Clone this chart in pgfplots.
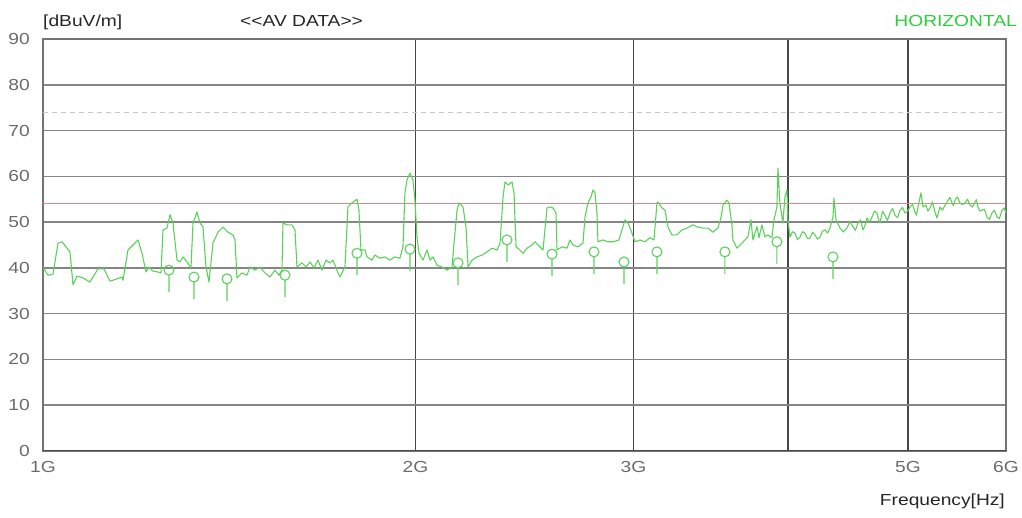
\documentclass[border=0pt]{standalone}
\usepackage{fontspec}
\setmainfont{Liberation Sans}[FakeStretch=1.2]
\usepackage{pgfplots}
\usepackage{pgfplotstable}
\pgfplotsset{compat=1.18}
\definecolor{trace}{RGB}{90,210,90}
\definecolor{hgreen}{RGB}{45,205,60}
\definecolor{limred}{RGB}{222,135,135}
\definecolor{limgray}{RGB}{200,200,200}
\pgfdeclareplotmark{ostem}{%
  \pgfpathcircle{\pgfpointorigin}{\pgfplotmarksize}%
  \pgfpathmoveto{\pgfpoint{0pt}{-\pgfplotmarksize}}%
  \pgfpathlineto{\pgfpoint{0pt}{-4.4\pgfplotmarksize}}%
  \pgfusepathqstroke}
\pgfplotstableread{
f y
1.0000 40.0
1.0037 39.5
1.0093 38.4
1.0188 38.6
1.0283 45.4
1.0360 45.7
1.0437 44.6
1.0515 43.5
1.0574 36.3
1.0653 38.2
1.0773 37.8
1.0914 36.9
1.1077 39.8
1.1202 39.8
1.1328 37.1
1.1476 37.6
1.1583 38.0
1.1605 37.3
1.1713 43.9
1.1823 45.0
1.1933 46.1
1.2023 43.2
1.2112 39.1
1.2180 40.2
1.2271 39.3
1.2386 39.1
1.2455 38.9
1.2502 48.3
1.2595 48.7
1.2666 51.6
1.2736 49.8
1.2832 41.7
1.2903 41.3
1.2976 42.4
1.3073 41.3
1.3170 40.0
1.3219 49.8
1.3318 52.2
1.3393 49.8
1.3468 48.9
1.3543 40.2
1.3619 36.9
1.3720 45.4
1.3849 47.8
1.3978 48.9
1.4109 47.8
1.4241 47.2
1.4294 46.1
1.4347 37.8
1.4481 38.9
1.4616 38.4
1.4698 40.2
1.4836 39.5
1.4974 40.2
1.5114 38.9
1.5255 38.0
1.5398 39.5
1.5513 38.4
1.5600 39.5
1.5629 49.8
1.5746 49.4
1.5893 49.4
1.5982 48.3
1.6042 40.2
1.6192 41.1
1.6313 40.2
1.6435 41.3
1.6557 40.0
1.6681 41.7
1.6806 39.5
1.6931 41.7
1.7058 41.1
1.7153 41.7
1.7281 39.5
1.7378 38.0
1.7540 40.2
1.7638 53.3
1.7770 54.2
1.7936 55.0
1.8003 52.6
1.8070 43.9
1.8205 43.9
1.8273 42.4
1.8444 41.7
1.8547 42.8
1.8721 42.1
1.8896 42.4
1.9072 41.7
1.9251 42.4
1.9430 42.1
1.9539 44.6
1.9612 56.4
1.9685 59.2
1.9795 60.7
1.9906 59.2
1.9980 54.8
2.0055 46.7
2.0130 43.2
2.0280 41.7
2.0432 43.9
2.0546 41.7
2.0661 42.4
2.0816 40.6
2.1010 40.2
2.1207 39.5
2.1405 40.2
2.1485 45.4
2.1605 52.6
2.1686 54.2
2.1848 53.3
2.1970 48.9
2.2052 40.2
2.2217 41.7
2.2424 42.4
2.2634 42.8
2.2845 43.5
2.3059 44.3
2.3274 43.9
2.3405 45.4
2.3536 55.5
2.3623 58.8
2.3755 58.1
2.3933 58.8
2.4022 56.4
2.4112 44.6
2.4291 43.9
2.4427 43.2
2.4610 44.3
2.4840 45.0
2.4979 45.7
2.5119 45.0
2.5353 43.9
2.5543 53.1
2.5686 53.3
2.5830 53.1
2.5974 52.0
2.6022 43.9
2.6266 44.6
2.6511 44.3
2.6659 46.1
2.6808 45.0
2.7059 44.6
2.7311 45.4
2.7413 51.1
2.7567 54.2
2.7721 55.5
2.7824 57.0
2.7928 56.4
2.8032 52.0
2.8084 45.7
2.8347 46.1
2.8612 45.7
2.8879 45.7
2.9203 46.1
2.9367 48.3
2.9531 50.5
2.9697 49.8
2.9918 47.6
3.0086 45.7
3.0367 46.1
3.0651 45.7
3.0937 46.6
3.1169 46.1
3.1343 54.2
3.1401 54.4
3.1636 53.1
3.1813 52.6
3.1991 48.9
3.2230 47.2
3.2531 47.2
3.2835 48.3
3.3142 48.7
3.3514 49.4
3.3827 48.9
3.4143 48.7
3.4462 48.7
3.4784 47.8
3.5109 48.7
3.5306 50.9
3.5437 53.7
3.5702 54.8
3.5835 54.2
3.6036 49.4
3.6103 46.1
3.6373 44.3
3.6713 45.4
3.6918 46.1
3.7125 46.8
3.7333 50.5
3.7472 46.1
3.7752 49.0
3.7893 46.6
3.8105 49.4
3.8318 46.8
3.8532 47.2
3.8820 46.6
3.8965 50.5
3.9183 53.3
3.9256 61.8
3.9402 54.2
3.9623 49.8
3.9771 55.5
3.9919 57.0
3.9993 50.5
4.0142 46.7
4.0330 47.9
4.0517 47.6
4.0700 46.2
4.0896 46.7
4.1080 47.9
4.1278 47.6
4.1470 46.4
4.1664 46.5
4.1860 47.8
4.2053 47.2
4.2250 46.3
4.2446 46.7
4.2640 48.0
4.2843 48.3
4.3050 47.6
4.3243 48.7
4.3485 51.1
4.3566 55.3
4.3728 50.5
4.3900 49.6
4.4055 48.7
4.4340 47.9
4.4632 48.7
4.4880 50.1
4.5133 49.0
4.5340 48.2
4.5555 49.8
4.5770 50.5
4.5981 48.3
4.6150 49.2
4.6324 50.9
4.6540 50.0
4.6757 51.1
4.6970 52.4
4.7194 52.0
4.7320 50.6
4.7458 49.8
4.7680 52.4
4.7902 51.5
4.8120 50.4
4.8349 52.0
4.8580 53.0
4.8801 51.5
4.9030 51.0
4.9257 52.6
4.9490 53.2
4.9717 52.0
4.9950 52.3
5.0182 53.3
5.0420 53.9
5.0651 52.2
5.0790 51.5
5.0934 53.3
5.1219 56.4
5.1410 53.3
5.1698 53.7
5.1890 52.4
5.2084 53.1
5.2330 54.4
5.2571 52.2
5.2767 50.9
5.3062 53.3
5.3310 52.6
5.3558 53.7
5.3700 54.1
5.3858 54.8
5.4060 55.4
5.4260 54.2
5.4410 53.6
5.4564 54.8
5.4820 55.5
5.5074 54.2
5.5330 53.8
5.5589 54.2
5.5850 55.0
5.6108 53.7
5.6370 53.3
5.6633 54.4
5.6790 54.9
5.6950 53.3
5.7160 52.4
5.7375 52.6
5.7640 52.8
5.7912 51.1
5.8180 50.6
5.8453 52.0
5.8730 52.6
5.8999 51.1
5.9270 50.8
5.9551 52.6
5.9780 53.1
6.0000 52.0
}\tracedata
\pgfplotstableread{
f y
1.2642 39.5
1.3244 38.0
1.4083 37.6
1.5687 38.4
1.7936 43.2
1.9795 44.1
2.1644 41.1
2.3710 46.1
2.5781 43.0
2.7877 43.5
2.9477 41.3
3.1343 43.5
3.5570 43.5
3.9183 45.7
4.3485 42.4
}\markdata
\begin{document}
\begin{tikzpicture}
\begin{axis}[
  at={(0pt,0pt)}, anchor=south west,
  scale only axis, width=963pt, height=412pt,
  xmode=log, xmin=1, xmax=6, ymin=0, ymax=90,
  xtick={1,2,3,4,5,6}, xticklabels={1G,2G,3G,,5G,6G},
  ytick={0,10,...,90},
  major tick length=0pt,
  grid=major,
  every axis x grid/.style={draw=black!72, line width=1.3pt},
  every axis y grid/.style={draw=black!48, line width=1.5pt},
  axis line style={draw=black!55, line width=1.3pt},
  /pgf/number format/assume math mode=true,
  tick label style={font=\fontsize{16}{19}\selectfont, text=black!58, inner sep=0pt},
  yticklabel style={anchor=east, xshift=-13pt},
  xticklabel style={anchor=north, yshift=-10pt},
]
\addplot[limgray, line width=1.2pt, dash pattern=on 5pt off 4pt] coordinates {(1,74) (6,74)};
\addplot[limred, line width=1.1pt] coordinates {(1,54) (6,54)};
\draw[black!70, line width=2.4pt] (axis cs:1,0) -- (axis cs:6,0);
\addplot[trace, line width=1.1pt, no markers, line join=round] table[x=f, y=y] {\tracedata};
\addplot[trace, line width=1.1pt, only marks, mark=ostem, mark size=5pt] table[x=f, y=y] {\markdata};
\end{axis}
\node[anchor=base west, font=\fontsize{16}{19}\selectfont, text=black!85, inner sep=0pt] at (0pt,424pt) {[dBuV/m]};
\node[anchor=base west, font=\fontsize{16}{19}\selectfont, text=black!85, inner sep=0pt] at (197pt,424pt) {<{}<AV DATA>{}>};
\node[anchor=base east, font=\fontsize{16}{19}\selectfont, text=hgreen, inner sep=0pt] at (974pt,424pt) {HORIZONTAL};
\node[anchor=base east, font=\fontsize{16}{19}\selectfont, text=black!85, inner sep=0pt] at (962pt,-55pt) {Frequency[Hz]};
\pgfresetboundingbox
\path[use as bounding box] (-43pt,-67pt) rectangle (979pt,451pt);
\end{tikzpicture}
\end{document}
